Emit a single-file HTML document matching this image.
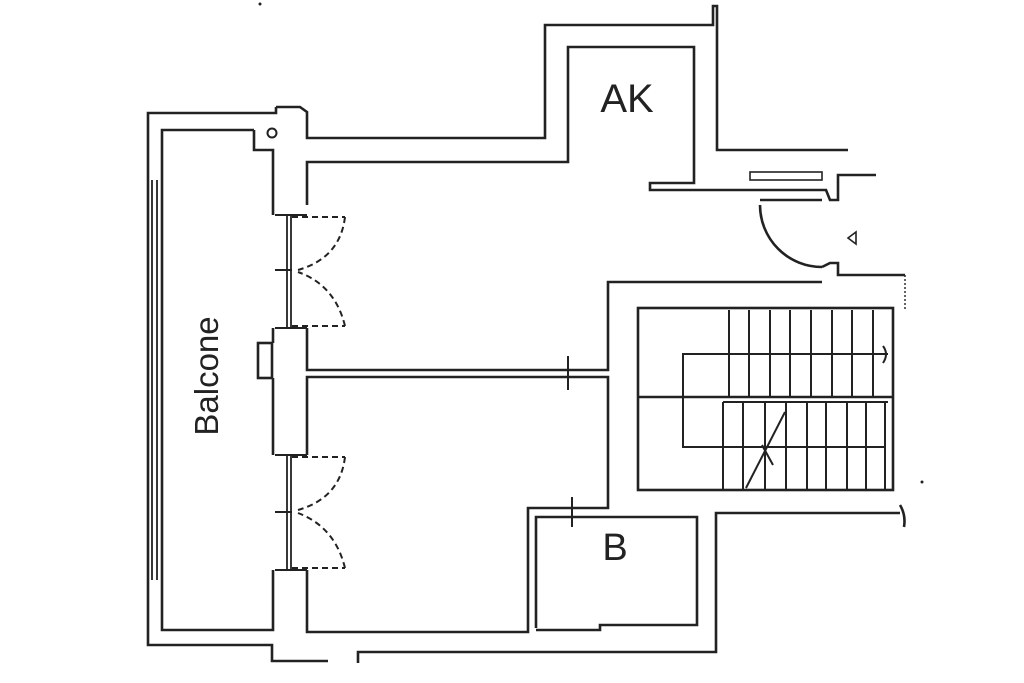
<!DOCTYPE html>
<html><head><meta charset="utf-8"><style>html,body{margin:0;padding:0;background:#fff}svg{display:block}</style></head><body>
<svg width="1024" height="683" viewBox="0 0 1024 683" xmlns="http://www.w3.org/2000/svg">
<g fill="none" stroke="#222" stroke-width="2.6" stroke-linejoin="miter">
<!-- balcony outer -->
<polyline points="276,107 276,113 148,113 148,645 272,645 272,661 328,661"/>
<polyline points="254,130 162,130 162,630 273,630 273,570"/>
<polyline points="254,130 254,150 273,150 273,215"/>
<line x1="273" y1="328" x2="273" y2="343"/>
<line x1="273" y1="378" x2="273" y2="455"/>
<rect x="258" y="343" width="14" height="35"/>
<circle cx="272" cy="133" r="4.5" stroke-width="2"/>
<!-- left window -->
<line x1="152" y1="180" x2="152" y2="580" stroke-width="1.8"/>
<line x1="157" y1="180" x2="157" y2="580" stroke-width="1.8"/>
<!-- outer top wall -->
<polyline points="276,107 300,107 307,112 307,138 545,138 545,25 713,25 713,6 717,6 717,150 848,150"/>
<!-- inner top -->
<polyline points="307,205 307,162 568,162 568,47 694,47 694,183 650,183 650,190 826,190 830,200 838,200 838,175 876,175"/>
<rect x="750" y="172" width="72" height="8" stroke-width="1.6"/>
<polyline points="760,200 822,200"/>
<path d="M760,205 A62,62 0 0 0 822,267"/>
<polyline points="822,267 830,263 838,263 838,275 905,275"/>
<line x1="905" y1="275" x2="905" y2="310" stroke-width="1.4" stroke-dasharray="2,2"/>
<path d="M848,238 l8,-6 v12 z" stroke-width="1.6"/>
<!-- main room walls -->
<polyline points="307,328 307,345 307,370 608,370 608,282 822,282"/>
<polyline points="307,455 307,377 608,377 608,508 528,508 528,632 307,632 307,570"/>
<line x1="568" y1="356" x2="568" y2="390" stroke-width="2"/>
<line x1="572" y1="497" x2="572" y2="527" stroke-width="2"/>
<!-- B room -->
<polyline points="536,628 536,517 697,517 697,625 600,625 600,630 536,630"/>
<!-- bottom line -->
<polyline points="358,663 358,652 716,652 716,513 900,513"/>
<path d="M900,505 q6,10 4,22"/>
<!-- stairs -->
<rect x="638" y="308" width="255" height="182"/>
<line x1="638" y1="397" x2="893" y2="397"/>
<g stroke-width="2">
<line x1="729" y1="310" x2="729" y2="397"/><line x1="749" y1="310" x2="749" y2="397"/>
<line x1="770" y1="310" x2="770" y2="397"/><line x1="790" y1="310" x2="790" y2="397"/>
<line x1="811" y1="310" x2="811" y2="397"/><line x1="832" y1="310" x2="832" y2="397"/>
<line x1="852" y1="310" x2="852" y2="397"/><line x1="873" y1="310" x2="873" y2="397"/>
<line x1="723" y1="402" x2="723" y2="490"/><line x1="743" y1="402" x2="743" y2="490"/>
<line x1="765" y1="402" x2="765" y2="490"/><line x1="786" y1="402" x2="786" y2="490"/>
<line x1="807" y1="402" x2="807" y2="490"/><line x1="826" y1="402" x2="826" y2="490"/>
<line x1="847" y1="402" x2="847" y2="490"/><line x1="866" y1="402" x2="866" y2="490"/>
<line x1="885" y1="402" x2="885" y2="490"/>
<line x1="723" y1="402" x2="888" y2="402"/>
<polyline points="888,354 683,354 683,447 885,447"/>
<path d="M883,346 q6,8 0,17"/>
<line x1="746" y1="488" x2="785" y2="412"/>
<line x1="762" y1="445" x2="773" y2="465"/>
</g>
<!-- doors -->
<g stroke-width="2">
<line x1="275" y1="215" x2="307" y2="215"/><line x1="275" y1="328" x2="307" y2="328"/>
<line x1="275" y1="270" x2="292" y2="270"/>
<line x1="275" y1="455" x2="307" y2="455"/><line x1="275" y1="570" x2="307" y2="570"/>
<line x1="275" y1="512" x2="292" y2="512"/>
</g>
<g stroke-width="1.8">
<line x1="287" y1="215" x2="287" y2="328"/><line x1="291" y1="215" x2="291" y2="328"/>
<line x1="287" y1="455" x2="287" y2="570"/><line x1="291" y1="455" x2="291" y2="570"/>
</g>
<g stroke-width="2" stroke-dasharray="6,4">
<line x1="292" y1="217" x2="345" y2="217"/>
<path d="M345,217 Q340,258 298,270"/>
<line x1="292" y1="326" x2="345" y2="326"/>
<path d="M345,326 Q335,285 298,272"/>
<line x1="292" y1="457" x2="345" y2="457"/>
<path d="M345,457 Q340,498 298,510"/>
<line x1="292" y1="568" x2="345" y2="568"/>
<path d="M345,568 Q335,527 298,513"/>
</g>
</g>
<circle cx="260" cy="4" r="1.5" fill="#222"/>
<circle cx="922" cy="482" r="1.5" fill="#222"/>
<g font-family="'Liberation Sans',sans-serif" fill="#222">
<text x="627" y="112" font-size="40" text-anchor="middle">AK</text>
<text x="615" y="560" font-size="38" text-anchor="middle">B</text>
<text transform="translate(218,376) rotate(-90)" font-size="33" text-anchor="middle">Balcone</text>
</g>
</svg>
</body></html>
